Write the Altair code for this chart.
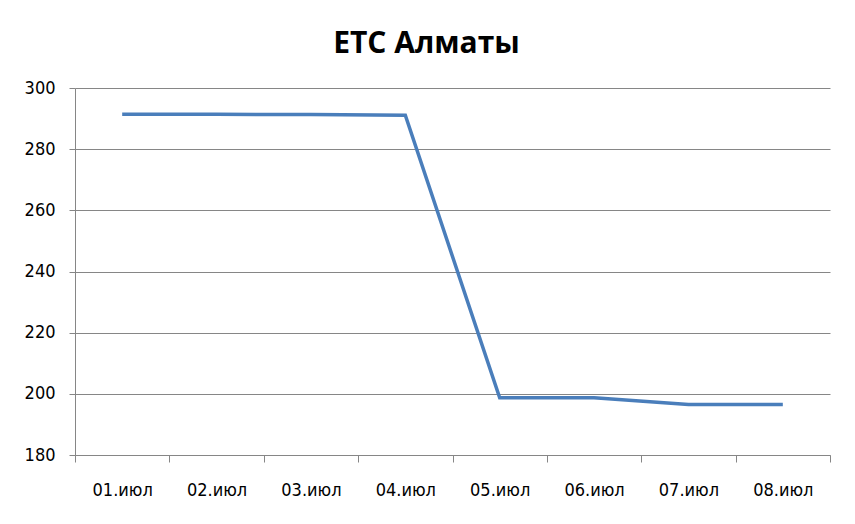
import json
import altair as alt
import pandas as pd

dates = ["01.июл", "02.июл", "03.июл", "04.июл", "05.июл", "06.июл", "07.июл", "08.июл"]
values = [291.4, 291.4, 291.3, 291.1, 198.7, 198.7, 196.5, 196.5]
y_ticks = [180, 200, 220, 240, 260, 280, 300]

df = pd.DataFrame({
    "pos": [i + 0.5 for i in range(len(dates))],
    "date": dates,
    "value": values,
})

n = len(dates)
W, H = 755, 367
band = W / n
label_expr = (
    f"datum.value < {n} ? {json.dumps(dates, ensure_ascii=False)}[round(datum.value)] : ''"
)

FONT = "Liberation Sans Narrow, DejaVu Sans Condensed, sans-serif"
GRAY = "#868686"

chart = (
    alt.Chart(df)
    .mark_line(color="#4a7ebb", strokeWidth=3.5)
    .encode(
        x=alt.X(
            "pos:Q",
            scale=alt.Scale(domain=[0, n], nice=False, zero=False),
            axis=alt.Axis(
                values=list(range(n + 1)),
                labelExpr=label_expr,
                labelOffset=band / 2,
                labelAlign="center",
                labelOverlap=False,
                labelBound=False,
                labelFlush=False,
                grid=False,
                ticks=True,
                tickSize=7,
                tickColor=GRAY,
                domainColor=GRAY,
                labelPadding=19,
                labelFont=FONT,
                labelFontSize=18,
                labelColor="#000000",
                title=None,
            ),
        ),
        y=alt.Y(
            "value:Q",
            scale=alt.Scale(domain=[180, 300], nice=False, zero=False),
            axis=alt.Axis(
                values=y_ticks,
                grid=True,
                gridColor=GRAY,
                tickColor=GRAY,
                domainColor=GRAY,
                tickSize=6,
                labelPadding=14,
                labelFont=FONT,
                labelFontSize=18,
                labelColor="#000000",
                title=None,
            ),
        ),
    )
    .properties(
        width=W,
        height=H,
        title=alt.TitleParams(
            "ЕТС Алматы",
            font="Open Sans",
            fontSize=30,
            fontWeight="bold",
            color="#000000",
            anchor="middle",
            offset=20,
            dx=-26,
        ),
        autosize=alt.AutoSizeParams(type="none"),
        padding={"left": 67, "top": 80, "right": 17, "bottom": 60},
    )
    .configure_view(stroke=None)
)

chart.save("out.html", embed_options={"renderer": "svg", "actions": False})
